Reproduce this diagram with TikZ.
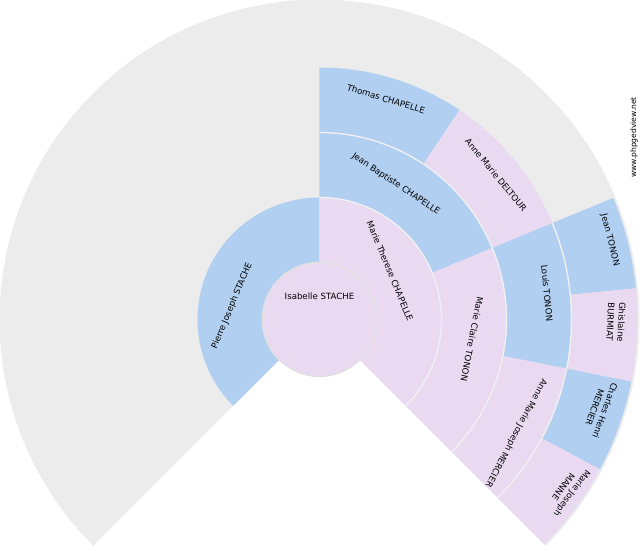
\documentclass[tikz,border=0pt]{standalone}
\usepackage{fontspec}
\setmainfont{DejaVu Sans}
\usepackage{xcolor}
\usepackage{tikz}
\usetikzlibrary{calc}
\definecolor{fanblue}{HTML}{B1CFF1}
\definecolor{fanpink}{HTML}{E9DAF1}
\definecolor{fanback}{HTML}{ECECEC}
\definecolor{fanline}{HTML}{F0F0F0}
\newcommand{\fanpiece}[5]{%
  \fill[#1] (#4:#2) arc[start angle=#4,end angle=#5,radius=#2]
    -- (#5:#3) arc[start angle=#5,end angle=#4,radius=#3] -- cycle;
  \draw[fanline,line width=1.4pt] (#4:#2) arc[start angle=#4,end angle=#5,radius=#2];}
\tikzset{person/.style={font=\fontsize{8.6}{11}\selectfont,align=center,text=black,inner sep=0pt}}

\begin{document}
\begin{tikzpicture}[x=1pt,y=1pt]
\useasboundingbox (-319.5,-230.5) rectangle (320.5,319.5);
\path coordinate (o) at (0,0);
\fill[fanback] (o) -- (-45:320) arc[start angle=-45,end angle=225,radius=320] -- cycle;
\fanpiece{fanblue}{57}{122}{90}{225}
\fanpiece{fanpink}{57}{122}{-45}{90}
\fanpiece{fanblue}{122}{187}{22.5}{90}
\fanpiece{fanpink}{122}{187}{-45}{22.5}
\fanpiece{fanblue}{187}{252}{56.25}{90}
\fanpiece{fanpink}{187}{252}{22.5}{56.25}
\fanpiece{fanblue}{187}{252}{-11.25}{22.5}
\fanpiece{fanpink}{187}{252}{-45}{-11.25}
\fanpiece{fanblue}{252}{318}{5.625}{22.5}
\fanpiece{fanpink}{252}{318}{-11.25}{5.625}
\fanpiece{fanblue}{252}{318}{-28.125}{-11.25}
\fanpiece{fanpink}{252}{318}{-45}{-28.125}
\filldraw[fill=fanpink,draw=black!12,line width=1.2pt] (o) circle[radius=57];
\node[person] (isabelle) at (0,23.5) {Isabelle STACHE};
\node[person,rotate=67.5] (pierre) at (-87.5,13.5) {Pierre Joseph STACHE};
\node[person,rotate=-67.5] (marietherese) at (70.5,48.5) {Marie Therese CHAPELLE};
\node[person,rotate=-33.75] (jeanbaptiste) at (76.5,135.5) {Jean Baptiste CHAPELLE};
\node[person,rotate=-16.9] (thomas) at (66.5,220.5) {Thomas CHAPELLE};
\node[person,rotate=-50.6] (annemarie) at (176.5,144.5) {Anne Marie DELTOUR};
\node[person,rotate=-101.25] (marieclaire) at (152.5,-19.5) {Marie Claire TONON};
\node[person,rotate=-84.4] (louis) at (227.5,26.5) {Louis TONON};
\node[person,rotate=-76] (jean) at (290.5,79.5) {Jean TONON};
\node[person,rotate=-92.8] (ghislaine) at (296.5,-2.5) {Ghislaine\\BURMIAT};
\node[person,rotate=-118.1] (annemariejoseph) at (196.5,-113.5) {Anne Marie Joseph MERCIER};
\node[person,rotate=-109.7] (charles) at (280.5,-89.5) {Charles Henri\\MERCIER};
\node[person,rotate=-126.6] (mariejoseph) at (248.5,-170.5) {Marie Joseph\\MANNE};
\node[font=\fontsize{7.6}{9}\selectfont,rotate=90,inner sep=0pt] (site) at (314.5,182) {www.phpgedview.net};
\end{tikzpicture}
\end{document}
